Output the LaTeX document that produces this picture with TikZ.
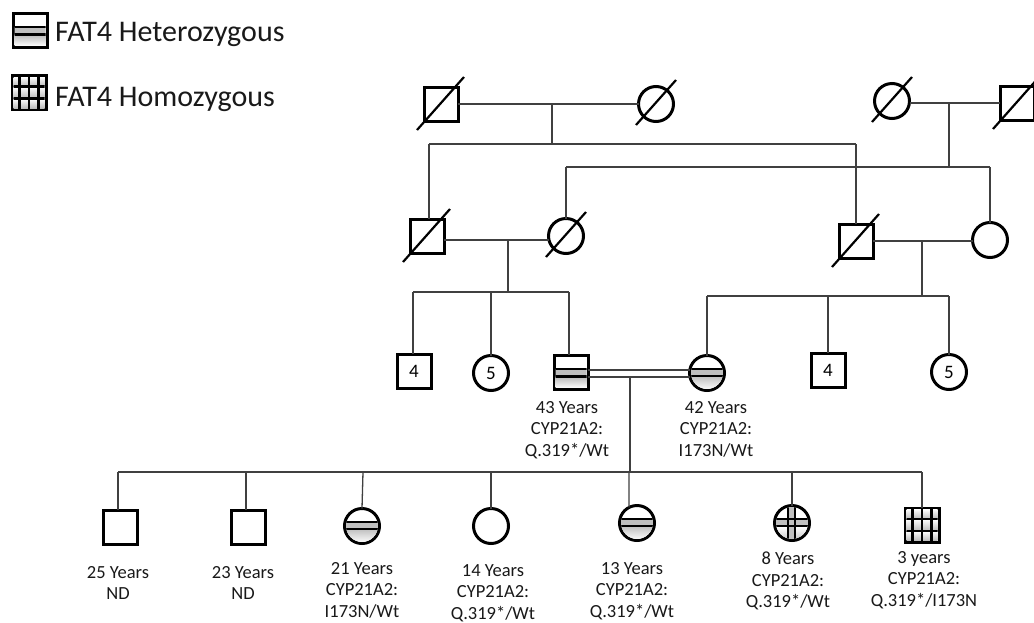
\documentclass[tikz,border=0pt]{standalone}
\usepackage{fontspec}
\setmainfont{Carlito}
\newcommand\hetsq[1]{\begin{scope}[shift={(#1.center)}]
 \clip (-15.5,-15.5) rectangle (15.5,15.5);
 \fill[gray!50] (-16,-3) rectangle (16,4.5);
 \shade[top color=gray!55, bottom color=white] (-16,4.5) rectangle (16,16);
 \draw[bar] (-16,-3) -- (16,-3);
 \draw[bar] (-16,4.5) -- (16,4.5);
\end{scope}}
\newcommand\hetci[1]{\begin{scope}[shift={(#1.center)}]
 \clip (0,0) circle (16);
 \fill[gray!50] (-17,-4) rectangle (17,3);
 \shade[top color=gray!50, bottom color=white] (-17,3) rectangle (17,17);
 \draw[bar] (-17,-4) -- (17,-4);
 \draw[bar] (-17,3) -- (17,3);
\end{scope}}
\newcommand\homci[1]{\begin{scope}[shift={(#1.center)}]
 \clip (0,0) circle (16);
 \shade[top color=white, bottom color=gray!45] (-17,3) rectangle (17,17);
 \fill[gray!50] (-17,-4) rectangle (17,3);
 \fill[gray!50] (-4,-17) rectangle (3,17);
 \draw[bar] (-17,-4) -- (17,-4);
 \draw[bar] (-17,3) -- (17,3);
 \draw[bar] (-4,-17) -- (-4,17);
 \draw[bar] (3,-17) -- (3,17);
\end{scope}}
\newcommand\homsq[1]{\begin{scope}[shift={(#1.center)}]
 \clip (-15.5,-15.5) rectangle (15.5,15.5);
 \shade[top color=white, bottom color=gray!55] (-16,-16) rectangle (16,-6);
 \shade[top color=white, bottom color=gray!55] (-16,-6) rectangle (16,6);
 \shade[top color=white, bottom color=gray!55] (-16,6) rectangle (16,16);
 \foreach \vx in {-9.5,0,9.5} {\draw[bar] (\vx,-16) -- (\vx,16);}
 \foreach \hy in {-6,6} {\draw[bar] (-16,\hy) -- (16,\hy);}
\end{scope}}
\begin{document}
\begin{tikzpicture}[x=1pt,y=-1pt,
  conn/.style={line width=1.3pt, draw=black!75},
  sym/.style={draw=black, line width=3pt, inner sep=0pt, outer sep=0pt, font=\fontsize{19}{21}\selectfont, text=black},
  msq/.style={sym, rectangle, minimum size=34pt},
  fci/.style={sym, circle, minimum size=35pt},
  slash/.style={line width=2.2pt, draw=black},
  lbl/.style={align=center, inner sep=0pt, anchor=north, font=\fontsize{18.5}{21.5}\selectfont, text=black!90},
  leg/.style={anchor=base west, inner sep=0pt, font=\fontsize{30}{36}\selectfont, text=black!90},
  bar/.style={line width=2.8pt, draw=black},
]
\useasboundingbox[fill=white] (0,0) rectangle (1034,622);

% legend
\node[msq] (L1) at (30,30) {};
\hetsq{L1}
\node[msq] (L2) at (29,92.5) {};
\homsq{L2}
\node[leg] (t1) at (55,41) {FAT4 Heterozygous};
\node[leg] (t2) at (55,106) {FAT4 Homozygous};

% generation I
\node[msq] (I1) at (441,104) {};
\node[fci] (I2) at (656,104) {};
\node[fci] (I3) at (892,101) {};
\node[msq] (I4) at (1017,103) {};
\draw[slash] (I1.center) ++(-24,26) -- ++(47,-53);
\draw[slash] (I2.center) ++(-20,21) -- ++(40,-45);
\draw[slash] (I3.center) ++(-20,21) -- ++(40,-45);
\draw[slash] (I4.center) ++(-24,26) -- ++(47,-53);

% generation II
\node[msq] (II1) at (427,236) {};
\node[fci] (II2) at (566,236) {};
\node[msq] (II3) at (856,241) {};
\node[fci] (II4) at (990,240) {};
\draw[slash] (II1.center) ++(-24,26) -- ++(47,-53);
\draw[slash] (II2.center) ++(-20,21) -- ++(40,-45);
\draw[slash] (II3.center) ++(-24,26) -- ++(47,-53);

% generation III
\node[msq] (III1) at (414,371) {4};
\node[fci] (III2) at (491,373) {5};
\node[msq] (III3) at (571,372) {};
\hetsq{III3}
\node[fci] (III4) at (707,373) {};
\hetci{III4}
\node[msq] (III5) at (828,370) {4};
\node[fci] (III6) at (949,372) {5};

% generation IV
\node[msq] (IV1) at (120,527) {};
\node[msq] (IV2) at (248,527) {};
\node[fci] (IV3) at (362,526) {};
\hetci{IV3}
\node[fci] (IV4) at (491,526) {};
\node[fci] (IV5) at (637,523) {};
\hetci{IV5}
\node[fci] (IV6) at (792,523) {};
\homci{IV6}
\node[msq] (IV7) at (922,525) {};
\homsq{IV7}

% connectors generation I
\coordinate (mI) at (552,104);
\coordinate (sI) at (552,144);
\coordinate (sIL) at (429,144);
\coordinate (sIR) at (856,144);
\draw[conn] (I1.east) -- (I2.west);
\draw[conn] (mI) -- (sI);
\draw[conn] (sIL) -- (sIR);
\draw[conn] (sIL) -- (sIL |- II1.north);
\draw[conn] (sIR) -- (II3.north);

\coordinate (mI2) at (949,103);
\coordinate (sI2) at (949,167);
\coordinate (sI2L) at (566,167);
\coordinate (sI2R) at (990,167);
\draw[conn] (I3.east |- mI2) -- (I4.west |- mI2);
\draw[conn] (mI2) -- (sI2);
\draw[conn] (sI2L) -- (sI2R);
\draw[conn] (sI2L) -- (II2.north);
\draw[conn] (sI2R) -- (II4.north);

% connectors generation II
\coordinate (mII) at (508,240);
\coordinate (sII) at (508,292);
\coordinate (sIIa) at (413,292);
\coordinate (sIIb) at (491,292);
\coordinate (sIIc) at (569,292);
\draw[conn] (II1.east |- mII) -- (II2.west |- mII);
\draw[conn] (mII) -- (sII);
\draw[conn] (sIIa) -- (sIIc);
\draw[conn] (sIIa) -- (sIIa |- III1.north);
\draw[conn] (sIIb) -- (III2.north);
\draw[conn] (sIIc) -- (sIIc |- III3.north);

\coordinate (mII2) at (922,241);
\coordinate (sII2) at (922,296);
\coordinate (sII2a) at (707,296);
\coordinate (sII2b) at (828,296);
\coordinate (sII2c) at (949,296);
\draw[conn] (II3.east |- mII2) -- (II4.west |- mII2);
\draw[conn] (mII2) -- (sII2);
\draw[conn] (sII2a) -- (sII2c);
\draw[conn] (sII2a) -- (III4.north);
\draw[conn] (sII2b) -- (III5.north);
\draw[conn] (sII2c) -- (III6.north);

% consanguineous marriage
\coordinate (dA) at (600,370);
\coordinate (dB) at (600,377);
\coordinate (mIII) at (630,377);
\draw[conn] (III3.east |- dA) -- (III4.west |- dA);
\draw[conn] (III3.east |- dB) -- (III4.west |- dB);

% connectors generation IV
\coordinate (sIV) at (630,472);
\coordinate (sIVa) at (118,472);
\coordinate (sIVb) at (246,472);
\coordinate (sIVc) at (363,472);
\coordinate (sIVd) at (491,472);
\coordinate (sIVe) at (629,472);
\coordinate (sIVf) at (792,472);
\coordinate (sIVg) at (922,472);
\draw[conn] (mIII) -- (sIV);
\draw[conn] (sIVa) -- (sIVg);
\draw[conn] (sIVa) -- (sIVa |- IV1.north);
\draw[conn] (sIVb) -- (sIVb |- IV2.north);
\draw[conn] (sIVc) -- (IV3.north);
\draw[conn] (sIVd) -- (IV4.north);
\draw[conn] (sIVe) -- (IV5.117);
\draw[conn] (sIVf) -- (IV6.north);
\draw[conn] (sIVg) -- (IV7.north);

% labels
\node[lbl] (lIII3) at (567,401) {43 Years\\CYP21A2:\\Q.319*/Wt};
\node[lbl] (lIII4) at (716,401) {42 Years\\CYP21A2:\\I173N/Wt};
\node[lbl] (lIV1) at (118,566) {25 Years\\ND};
\node[lbl] (lIV2) at (243,566) {23 Years\\ND};
\node[lbl] (lIV3) at (362,562) {21 Years\\CYP21A2:\\I173N/Wt};
\node[lbl] (lIV4) at (493,564) {14 Years\\CYP21A2:\\Q.319*/Wt};
\node[lbl] (lIV5) at (632,562) {13 Years\\CYP21A2:\\Q.319*/Wt};
\node[lbl] (lIV6) at (788,552) {8 Years\\CYP21A2:\\Q.319*/Wt};
\node[lbl] (lIV7) at (924,551) {3 years\\CYP21A2:\\Q.319*/I173N};
\end{tikzpicture}
\end{document}
